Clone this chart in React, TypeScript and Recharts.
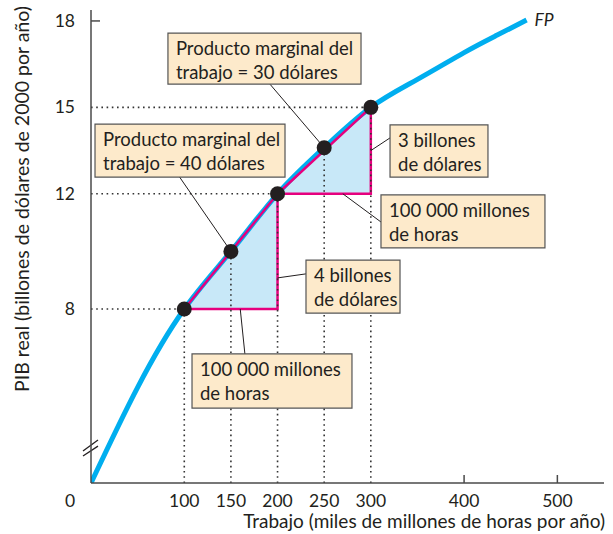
import React from "react";
import {
  ComposedChart,
  Line,
  Area,
  Scatter,
  XAxis,
  YAxis,
  ReferenceLine,
  ReferenceArea,
  ReferenceDot,
} from "recharts";

// production function FP (hours in 1000 millions, GDP in billions)
const fpHours = [0, 50, 100, 150, 200, 250, 300, 350, 400, 435, 467];
const fpGdp = [0, 4.4, 8, 10, 12, 13.6, 15, 15.97, 16.9, 17.5, 18.03];

// marked points on the curve
const pointHours = [100, 150, 200, 250, 300];
const pointGdp = [8, 10, 12, 13.6, 15];

const xTicks = [0, 100, 150, 200, 250, 300, 400, 500];
const yTicks = [8, 12, 15, 18];

// the y axis is broken below 8: zero sits at Y_BASE
const Y_BASE = 1.96;
const Y_TOP = 18.38;
const shown = (v: number) => (v < 8 ? Y_BASE + (v * (8 - Y_BASE)) / 8 : v);

const FONT = "Lato, 'Open Sans', sans-serif";
const INK = "#231f20";
const AXIS = "#4a4a4a";
const BLUE = "#00aeef";
const MAGENTA = "#e6007e";
const FILL = "#c8e8f8";
const BOX = "#fdeacb";

const fpData = fpHours.map((x, i) => ({ x, y: shown(fpGdp[i]) }));
const pointData = pointHours.map((x, i) => ({ x, y: pointGdp[i] }));

// the two triangles: from point a to point b
const steps = [
  [0, 2],
  [2, 4],
];
const triFill = steps.map(([a, b]) => [
  { x: pointHours[a], band: [pointGdp[a], pointGdp[a]] },
  { x: pointHours[b], band: [pointGdp[a], pointGdp[b]] },
]);
const triEdge = steps.map(([a, b]) => [
  { x: pointHours[a], y: pointGdp[a] },
  { x: pointHours[b], y: pointGdp[b] },
  { x: pointHours[b], y: pointGdp[a] },
  { x: pointHours[a], y: pointGdp[a] },
]);

// callouts (box in data units, leader from box to mark)
const callouts = [
  { lines: ["Producto marginal del", "trabajo = 30 dólares"], x1: 82.5, x2: 289.5, y1: 15.81, y2: 17.58, from: [192, 15.8], to: [250, 13.6] },
  { lines: ["Producto marginal del", "trabajo = 40 dólares"], x1: 4.3, x2: 208, y1: 12.58, y2: 14.42, from: [95, 12.58], to: [150, 10] },
  { lines: ["3 billones", "de dólares"], x1: 320.6, x2: 425.6, y1: 12.58, y2: 14.39, from: [320.6, 13.94], to: [300, 13.5] },
  { lines: ["100 000 millones", "de horas"], x1: 310.9, x2: 486.7, y1: 10.12, y2: 11.96, from: [310.9, 11.02], to: [270, 12] },
  { lines: ["4 billones", "de dólares"], x1: 230.5, x2: 331.3, y1: 7.86, y2: 9.7, from: [230.5, 9.22], to: [200, 9.08] },
  { lines: ["100 000 millones", "de horas"], x1: 108.3, x2: 279.8, y1: 4.56, y2: 6.44, from: [165, 6.44], to: [160, 8] },
];

const XTick = (props: any) => {
  const { x, y, payload } = props;
  const v = payload.value;
  return (
    <g>
      {v >= 400 && <line x1={x} x2={x} y1={y} y2={y - 8} stroke={AXIS} strokeWidth={1.5} />}
      <text x={v === 0 ? x - 21 : x} y={y + 24} textAnchor="middle" fontSize={17.5} fontFamily={FONT} fill={INK}>
        {v}
      </text>
    </g>
  );
};

const YTick = (props: any) => {
  const { x, y, payload } = props;
  const v = payload.value;
  return (
    <g>
      {v === 18 && <line x1={x} x2={x + 9} y1={y} y2={y} stroke={AXIS} strokeWidth={1.5} />}
      <text x={x - 16} y={y + 6} textAnchor="end" fontSize={17.5} fontFamily={FONT} fill={INK}>
        {v}
      </text>
    </g>
  );
};

const boxText = (lines: string[]) => (props: any) => {
  const { x, y } = props.viewBox;
  return (
    <text x={x + 8} y={y + 22} fontSize={18.5} fontFamily={FONT} fill={INK}>
      {lines.map((l, i) => (
        <tspan key={i} x={x + 8} dy={i === 0 ? 0 : 24}>
          {l}
        </tspan>
      ))}
    </text>
  );
};

const dotted = { stroke: "#333", strokeWidth: 1.6, strokeDasharray: "1.6 3.6" };

export default function App() {
  return (
    <div style={{ position: "absolute", left: 0, top: 0, background: "#fff" }}>
      <ComposedChart width={613} height={534} margin={{ top: 10, right: 9, left: 0, bottom: 0 }}>
        <XAxis
          type="number"
          dataKey="x"
          domain={[0, 550]}
          ticks={xTicks}
          allowDataOverflow
          height={51}
          tickSize={0}
          tickMargin={0}
          tick={XTick}
          axisLine={{ stroke: AXIS, strokeWidth: 1.5 }}
          label={(p: any) => (
            <text
              x={p.viewBox.x + p.viewBox.width + 1}
              y={p.viewBox.y + 45}
              textAnchor="end"
              fontSize={19}
              fontFamily={FONT}
              fill={INK}
            >
              Trabajo (miles de millones de horas por año)
            </text>
          )}
        />
        <YAxis
          type="number"
          dataKey="y"
          domain={[Y_BASE, Y_TOP]}
          ticks={yTicks}
          allowDataOverflow
          width={91}
          tickSize={0}
          tickMargin={0}
          tick={YTick}
          axisLine={{ stroke: AXIS, strokeWidth: 1.5 }}
          label={(p: any) => (
            <text
              x={0}
              y={0}
              transform={`translate(29, 199) rotate(-90)`}
              textAnchor="middle"
              fontSize={19.5}
              fontFamily={FONT}
              fill={INK}
            >
              PIB real (billones de dólares de 2000 por año)
            </text>
          )}
        />

        {triFill.map((d, i) => (
          <Area
            key={"f" + i}
            data={d}
            dataKey="band"
            type="linear"
            stroke="none"
            fill={FILL}
            fillOpacity={1}
            isAnimationActive={false}
          />
        ))}

        <Line data={fpData} dataKey="y" type="natural" stroke={BLUE} strokeWidth={5} dot={false} isAnimationActive={false} />

        {triEdge.map((d, i) => (
          <Line
            key={"e" + i}
            data={d}
            dataKey="y"
            type="linear"
            stroke={MAGENTA}
            strokeWidth={2.5}
            dot={false}
            isAnimationActive={false}
          />
        ))}

        {pointData.map((p, i) => (
          <ReferenceLine key={"v" + i} segment={[{ x: p.x, y: Y_BASE }, { x: p.x, y: p.y }]} {...dotted} />
        ))}
        {[0, 2, 4].map((i) => (
          <ReferenceLine
            key={"h" + i}
            segment={[{ x: 0, y: pointData[i].y }, { x: pointData[i].x, y: pointData[i].y }]}
            {...dotted}
          />
        ))}

        {/* axis break marks */}
        <ReferenceLine segment={[{ x: -8.6, y: 3.07 }, { x: 7.5, y: 3.45 }]} stroke={INK} strokeWidth={1.3} ifOverflow="visible" />
        <ReferenceLine segment={[{ x: -8.6, y: 2.9 }, { x: 7.5, y: 3.24 }]} stroke={INK} strokeWidth={1.3} ifOverflow="visible" />

        {callouts.map((c, i) => (
          <ReferenceLine
            key={"l" + i}
            segment={[{ x: c.from[0], y: c.from[1] }, { x: c.to[0], y: c.to[1] }]}
            stroke={INK}
            strokeWidth={1}
          />
        ))}
        {callouts.map((c, i) => (
          <ReferenceArea
            key={"b" + i}
            x1={c.x1}
            x2={c.x2}
            y1={c.y1}
            y2={c.y2}
            fill={BOX}
            fillOpacity={1}
            stroke="#555"
            strokeWidth={1.2}
            zIndex={700}
            label={boxText(c.lines)}
          />
        ))}

        <Scatter
          data={pointData}
          dataKey="y"
          fill={INK}
          isAnimationActive={false}
          shape={(p: any) => <circle cx={p.cx} cy={p.cy} r={7.5} fill={INK} />}
        />

        <ReferenceDot
          x={fpHours[fpHours.length - 1]}
          y={fpGdp[fpGdp.length - 1]}
          r={0}
          stroke="none"
          label={(p: any) => (
            <text x={p.viewBox.x + 8} y={p.viewBox.y + 6} fontSize={17.5} fontStyle="italic" fontFamily={FONT} fill={INK}>
              FP
            </text>
          )}
        />
      </ComposedChart>
    </div>
  );
}
